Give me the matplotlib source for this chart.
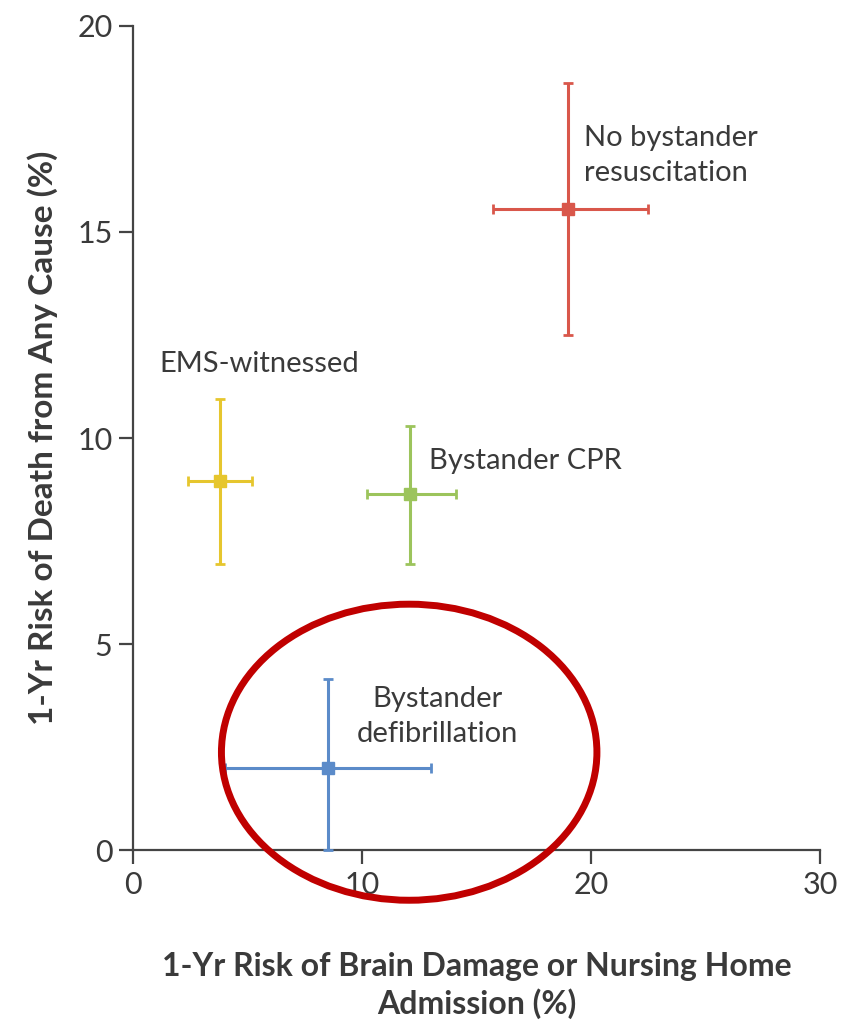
import matplotlib.pyplot as plt
from matplotlib.patches import Ellipse

plt.rcParams["font.family"] = ["Lato", "DejaVu Sans"]

# data
groups = ["No bystander\nresuscitation", "EMS-witnessed", "Bystander CPR",
          "Bystander\ndefibrillation"]
x_val = [19.0, 3.8, 12.1, 8.5]
x_lo = [15.7, 2.4, 10.2, 4.0]
x_hi = [22.5, 5.2, 14.1, 13.0]
y_val = [15.55, 8.95, 8.65, 2.0]
y_lo = [12.5, 6.95, 6.95, 0.0]
y_hi = [18.6, 10.95, 10.3, 4.15]
colors = ["#d9574b", "#e6c62e", "#9cc45c", "#5b8bc9"]

# label anchors (data coords)
label_x = [19.7, 1.15, 12.9, 13.3]
label_y = [16.85, 11.8, 9.45, 3.25]
label_ha = ["left", "left", "left", "center"]

TEXT = "#3a3a3a"

fig = plt.figure(figsize=(8.49, 10.27), dpi=100)
ax = fig.add_axes([0.157, 0.172, 0.809, 0.803])

for i in range(len(groups)):
    ax.errorbar(x_val[i], y_val[i],
                xerr=[[x_val[i] - x_lo[i]], [x_hi[i] - x_val[i]]],
                yerr=[[y_val[i] - y_lo[i]], [y_hi[i] - y_val[i]]],
                fmt="s", color=colors[i], ms=8, elinewidth=2.2,
                capsize=3.5, capthick=2, clip_on=False, zorder=3)
    ax.text(label_x[i], label_y[i], groups[i], ha=label_ha[i], va="center",
            fontsize=21, color=TEXT, linespacing=1.45)

ell = Ellipse((12.05, 2.38), 16.4, 7.18, fill=False, edgecolor="#c00000",
              lw=5, clip_on=False, zorder=4)
ax.add_patch(ell)

ax.set_xlim(0, 30)
ax.set_ylim(0, 20)
ax.set_xticks([0, 10, 20, 30])
ax.set_yticks([0, 5, 10, 15, 20])
for s in ["top", "right"]:
    ax.spines[s].set_visible(False)
for s in ["left", "bottom"]:
    ax.spines[s].set_color("#444444")
    ax.spines[s].set_linewidth(1.6)
ax.tick_params(direction="out", length=10, width=1.6, color="#444444",
               labelsize=22, labelcolor=TEXT, pad=5)

ax.set_xlabel("1-Yr Risk of Brain Damage or Nursing Home\nAdmission (%)",
              fontsize=23, fontweight="bold", color=TEXT, labelpad=38,
              linespacing=1.3)
ax.set_ylabel("1-Yr Risk of Death from Any Cause (%)", fontsize=24,
              fontweight="bold", color=TEXT, labelpad=14)

fig.savefig("out.png", dpi=100)
